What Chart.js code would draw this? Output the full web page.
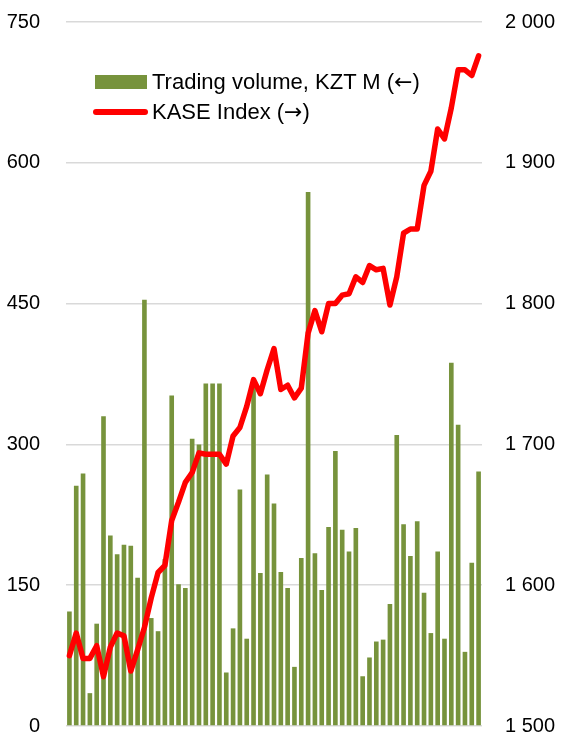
<!DOCTYPE html>
<html>
<head>
<meta charset="utf-8">
<script src="https://cdn.jsdelivr.net/npm/chart.js@4"></script>
<style>
    body { margin: 0; background: #fff; }
    #wrap { position: relative; width: 562px; height: 737px; }
    .legend-item { position: absolute; left: 152px; font-family: 'Liberation Sans', Arial, sans-serif; font-size: 22px; color: #000; white-space: nowrap; line-height: 1; }
    .arrow { font-family: 'DejaVu Sans', sans-serif; }
    .swatch { position: absolute; }
</style>
</head>
<body>
<div id="wrap">
    <canvas id="chart"></canvas>
    <div class="swatch" style="left:95px;top:75px;width:52px;height:14px;background:#77933C;"></div>
    <div class="legend-item" style="top:71px;">Trading volume, KZT M (<span class="arrow">←</span>)</div>
    <div class="swatch" style="left:93px;top:109px;width:55px;height:6px;background:#FF0000;border-radius:3px;"></div>
    <div class="legend-item" style="top:101px;">KASE Index (<span class="arrow">→</span>)</div>
</div>
<script>
// Trading volume, KZT M (left axis)
const volume = [
    122, 256, 269, 35, 109, 330, 203, 183, 193, 192,
    158, 454, 115, 101, 178, 352, 151, 147, 306, 300,
    365, 365, 365, 57, 104, 252, 93, 362, 163, 268,
    237, 164, 147, 63, 179, 569, 184, 145, 212, 293,
    209, 186, 211, 53, 73, 90, 92, 130, 310, 215,
    181, 218, 142, 99, 186, 93, 387, 321, 79, 174,
    271
];

// KASE Index (right axis)
const kase = [
    1550, 1566, 1548, 1548, 1557, 1535, 1556, 1566, 1564, 1539,
    1554, 1570, 1591, 1609, 1614, 1646, 1659, 1673, 1680, 1694,
    1693, 1693, 1693, 1686, 1706, 1712, 1727, 1746, 1736, 1753,
    1768, 1739, 1742, 1733, 1740, 1779, 1795, 1780, 1800, 1800,
    1806, 1807, 1819, 1815, 1827, 1824, 1825, 1799, 1819, 1850,
    1853, 1853, 1884, 1894, 1924, 1917, 1939, 1966, 1966, 1962,
    1976
];

const labels = volume.map((v, i) => String(i + 1));

const tickFont = { family: "'Liberation Sans', Arial, sans-serif", size: 20, lineHeight: 1.1 };

new Chart(document.getElementById('chart').getContext('2d'), {
    type: 'bar',
    data: {
        labels: labels,
        datasets: [
            {
                type: 'line',
                label: 'KASE Index (→)',
                data: kase,
                yAxisID: 'y2',
                borderColor: '#FF0000',
                borderWidth: 5.5,
                pointRadius: 0,
                tension: 0,
                borderJoinStyle: 'round',
                borderCapStyle: 'round',
                order: 0
            },
            {
                label: 'Trading volume, KZT M (←)',
                data: volume,
                yAxisID: 'y',
                backgroundColor: '#77933C',
                borderWidth: 0,
                barPercentage: 0.68,
                categoryPercentage: 1,
                order: 1
            }
        ]
    },
    options: {
        responsive: true,
        maintainAspectRatio: false,
        animation: false,
        layout: { padding: { top: 22, bottom: 11, left: 0, right: 0 } },
        plugins: {
            legend: { display: false },
            tooltip: { enabled: false }
        },
        scales: {
            x: {
                display: false,
                offset: true
            },
            y: {
                position: 'left',
                min: 0,
                max: 750,
                afterFit: (scale) => { scale.width = 66; },
                ticks: {
                    stepSize: 150,
                    color: '#000',
                    font: tickFont,
                    padding: 0
                },
                grid: {
                    color: '#d9d9d9',
                    lineWidth: 1.5,
                    drawTicks: true,
                    tickLength: 26,
                    tickColor: 'rgba(0,0,0,0)'
                },
                border: { display: false }
            },
            y2: {
                position: 'right',
                min: 1500,
                max: 2000,
                afterFit: (scale) => { scale.width = 80; },
                ticks: {
                    stepSize: 100,
                    color: '#000',
                    font: tickFont,
                    padding: 0,
                    callback: (v) => String(v).replace(/\B(?=(\d{3})+(?!\d))/g, ' ')
                },
                grid: {
                    drawOnChartArea: false,
                    drawTicks: true,
                    tickLength: 23,
                    tickColor: 'rgba(0,0,0,0)'
                },
                border: { display: false }
            }
        }
    }
});
</script>
</body>
</html>
